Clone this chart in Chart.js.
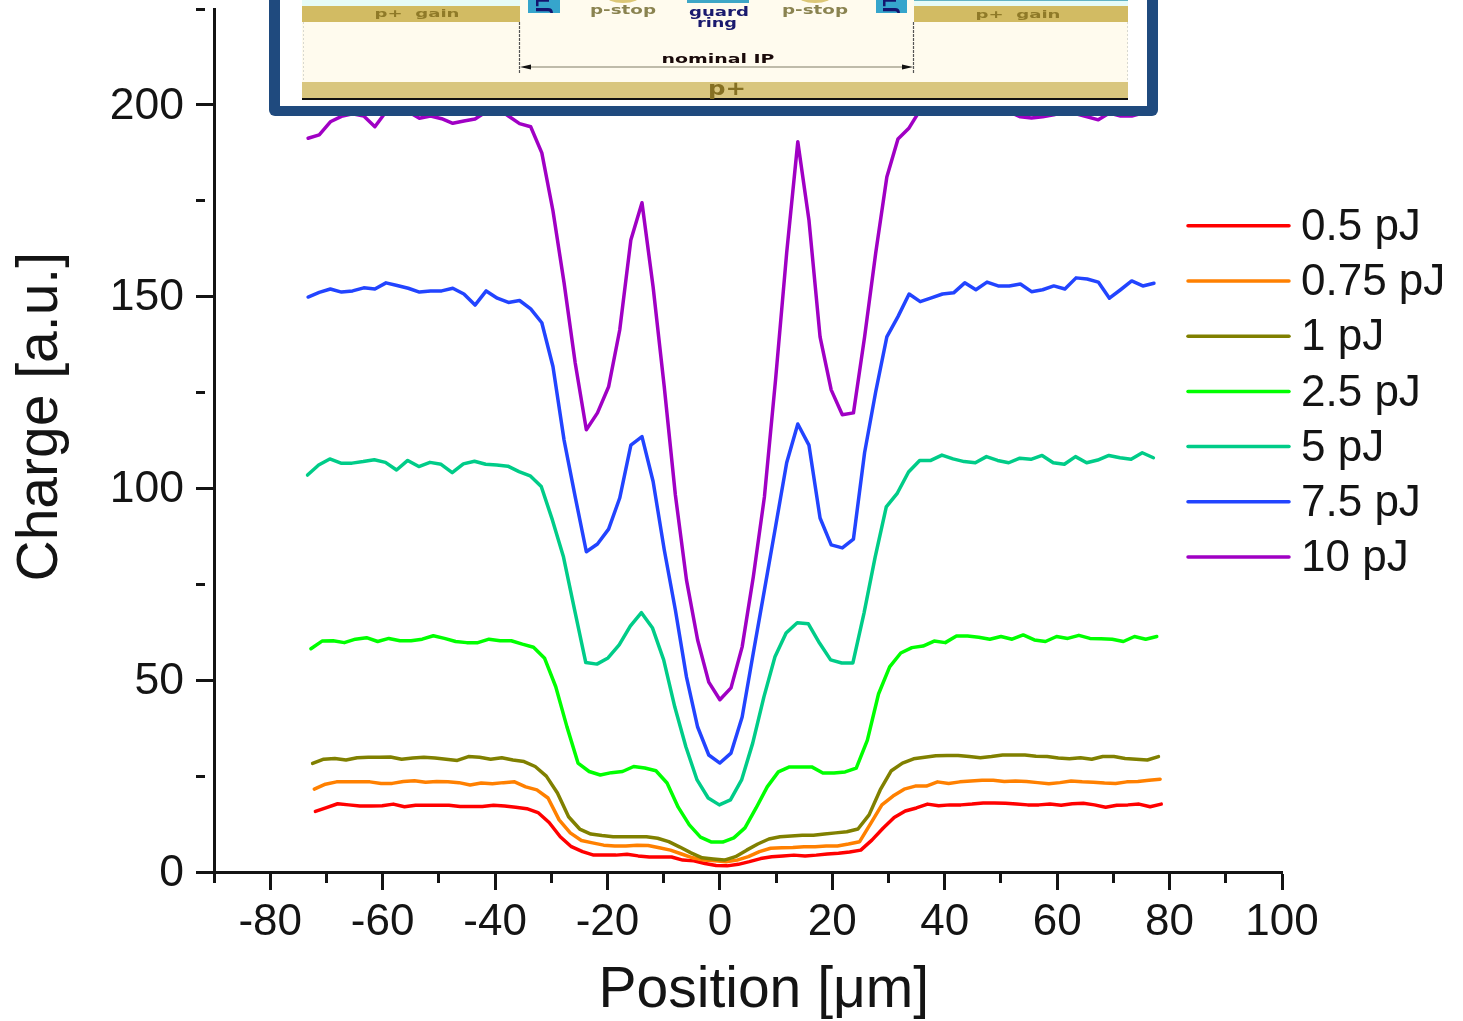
<!DOCTYPE html>
<html>
<head>
<meta charset="utf-8">
<style>html,body{margin:0;padding:0;background:#fff}#wrap{position:relative;width:1463px;height:1021px}</style>
<script src="https://cdn.jsdelivr.net/npm/chart.js@4/dist/chart.umd.min.js"></script>
</head>
<body>
<div id="wrap"><canvas id="c" width="1463" height="1021"></canvas></div>
<script>
const seriesNames = ['0.5 pJ','0.75 pJ','1 pJ','2.5 pJ','5 pJ','7.5 pJ','10 pJ'];
const seriesColors = ['#ff0000','#ff8000','#808000','#00ff00','#00cc88','#2244ff','#a000c4'];
const xTickValues = [-90,-80,-70,-60,-50,-40,-30,-20,-10,0,10,20,30,40,50,60,70,80,90,100];
const xTickLabels = [-80,-60,-40,-20,0,20,40,60,80,100];
const yTickValues = [0,25,50,75,100,125,150,175,200,225];
const yTickLabels = [0,50,100,150,200];

const positions = [-73.26,-71.28,-69.3,-67.32,-65.34,-63.36,-61.38,-59.4,-57.42,-55.44,-53.46,-51.48,-49.5,-47.52,-45.54,-43.56,-41.58,-39.6,-37.62,-35.64,-33.66,-31.68,-29.7,-27.72,-25.74,-23.76,-21.78,-19.8,-17.82,-15.84,-13.86,-11.88,-9.9,-7.92,-5.94,-3.96,-1.98,0,1.98,3.96,5.94,7.92,9.9,11.88,13.86,15.84,17.82,19.8,21.78,23.76,25.74,27.72,29.7,31.68,33.66,35.64,37.62,39.6,41.58,43.56,45.54,47.52,49.5,51.48,53.46,55.44,57.42,59.4,61.38,63.36,65.34,67.32,69.3,71.28,73.26,75.24,77.22];
const positionShift = [1.3,1.1,0.8,0.5,-0.1,0,0];

const q05 = [15.8,16.8,17.8,17.5,17.2,17.2,17.3,17.7,17,17.4,17.4,17.4,17.4,17.1,17.1,17.1,17.4,17.2,16.9,16.5,15.5,12.9,9.2,6.6,5.3,4.4,4.4,4.4,4.6,4.2,3.9,3.9,3.9,3.1,2.9,2.2,1.7,1.6,2,2.7,3.5,4,4.2,4.4,4.2,4.4,4.7,4.9,5.2,5.7,8.3,11.4,14.2,15.9,16.7,17.7,17.3,17.5,17.5,17.7,18,18,17.9,17.7,17.5,17.5,17.7,17.4,17.8,17.9,17.5,16.9,17.4,17.5,17.7,17,17.7];
const q075 = [21.6,22.9,23.5,23.5,23.5,23.5,23.1,23.1,23.6,23.8,23.4,23.6,23.5,23.3,22.7,23.2,23,23.3,23.5,22.2,21.4,19.3,13.6,10.2,8.2,7.6,7,6.8,6.8,7,6.9,6.3,5.7,4.7,3.7,3.1,2.9,2.7,3.1,4,5.3,6.2,6.3,6.4,6.6,6.6,6.8,6.8,7.3,7.9,12.7,17.5,19.8,21.6,22.4,22.4,23.5,23.1,23.5,23.7,23.9,23.9,23.6,23.7,23.6,23.3,23,23.3,23.7,23.5,23.4,23.2,23.1,23.5,23.6,23.9,24.2];
const q1 = [28.3,29.4,29.6,29.2,29.8,29.9,29.9,30,29.4,29.7,29.9,29.7,29.4,29.1,30.1,29.9,29.4,29.8,29.2,28.8,27.5,25,20.6,14.4,11.2,9.9,9.5,9.2,9.2,9.2,9.2,8.8,7.9,6.5,5,3.7,3.4,3.1,4,5.7,7.3,8.6,9.2,9.4,9.6,9.6,9.9,10.2,10.5,11.2,14.9,21.4,26.4,28.4,29.5,29.9,30.3,30.4,30.4,30.1,29.8,30.1,30.5,30.5,30.5,30.2,30.1,29.7,29.5,29.8,29.4,30.1,30.1,29.6,29.4,29.2,30.1];
const q25 = [58.2,60.2,60.3,59.8,60.7,61.1,60.1,60.9,60.3,60.3,60.7,61.6,60.9,60.1,59.8,59.8,60.7,60.3,60.3,59.4,58.6,55.7,48.3,37.9,28.4,26.2,25.3,25.9,26.2,27.5,27.1,26.4,23.2,16.9,12.3,9.1,7.8,7.8,8.9,11.5,16.7,22.2,26.1,27.4,27.4,27.4,25.8,25.8,26.1,27.1,34.4,46.4,53.5,57.1,58.5,58.9,60.2,59.8,61.5,61.5,61.2,60.7,61.4,60.7,61.8,60.5,60.1,61.4,60.9,61.7,60.9,60.8,60.7,60.1,61.4,60.7,61.4];
const q5 = [103.5,106.1,107.7,106.6,106.6,107,107.5,106.8,104.8,107.3,105.7,106.8,106.3,104.1,106.4,107.1,106.3,106.1,105.8,104.4,103.3,100.5,91.8,82.1,68.3,54.6,54.2,55.8,59.2,64.1,67.6,63.6,55.3,43,32.6,24,19.3,17.5,18.8,24,33.6,45.6,56.1,62.3,65,64.7,59.7,55.3,54.5,54.5,67.5,82.1,95.2,98.8,104.3,107.3,107.3,108.7,107.7,107,106.7,108.3,107.3,106.7,107.9,107.6,108.6,106.7,106.3,108.3,106.7,107.4,108.6,108,107.6,109.3,108];
const q75 = [149.9,151.1,152,151.2,151.5,152.3,152,153.6,152.9,152.2,151.2,151.5,151.5,152.2,150.7,147.8,151.5,149.6,148.5,149,146.8,143.2,131.8,112.6,97.8,83.5,85.5,89.4,97.5,111.3,113.5,101.8,84,68.3,50.8,37.8,30.5,28.4,31,40.4,57.1,73.5,90,106.7,116.8,111.3,92.3,85.3,84.5,86.8,109.3,125.2,139.5,144.8,150.7,148.7,149.7,150.7,151,153.6,151.8,153.8,152.8,152.8,153.3,151.3,151.8,152.8,152,154.9,154.6,153.8,149.6,151.8,154.1,152.8,153.5];
const q10 = [191.3,192.2,195.6,197,197.7,197.1,194.3,198.2,199.2,198.2,196.5,197.1,196.4,195.2,195.8,196.3,198.2,199.2,197.1,195.1,194.3,187.5,172.4,153.6,132.7,115.3,119.7,126.5,141.3,164.8,174.5,152.5,126.5,98.3,76.1,60.5,49.5,44.9,48,58.7,76.9,97.8,128.3,161.4,190.4,170,139.5,125.7,119.2,119.7,139.5,161.4,181.2,191.1,194,198.7,199.2,199.5,199.2,199.7,199.2,199,198.7,198.2,196.9,196.6,196.9,197.4,198.2,197.7,196.9,196.1,197.9,197.1,197.1,197.9,198.2];
const seriesValues = [q05,q075,q1,q25,q5,q75,q10];

const FONT = '"Liberation Sans", Arial, sans-serif';
const INK = '#141414';

function fitText(ctx, str, cx, cy, size, width, color) {
  ctx.save();
  ctx.font = 'bold ' + size + 'px "DejaVu Sans"';
  ctx.fillStyle = color;
  ctx.textAlign = 'center';
  ctx.textBaseline = 'middle';
  const w = ctx.measureText(str).width;
  ctx.translate(cx, cy);
  ctx.scale(width / w, 1);
  ctx.fillText(str, 0, 0);
  ctx.restore();
}

const insetPlugin = {
  id: 'inset',
  afterDatasetsDraw(chart) {
    const ctx = chart.ctx;
    ctx.save();
    ctx.fillStyle = '#1f4a7e';
    ctx.beginPath();
    ctx.roundRect(269, -20, 889, 136, 6);
    ctx.fill();
    ctx.fillStyle = '#ffffff';
    ctx.fillRect(280, 0, 867, 106);
    ctx.fillStyle = '#fffbee';
    ctx.fillRect(302, 0, 826, 82);
    ctx.fillStyle = '#e6fbf8';
    ctx.fillRect(302, 0, 218, 6);
    ctx.fillRect(914, 0, 214, 6);
    ctx.fillStyle = '#63b4c4';
    ctx.fillRect(914, 0, 214, 1);
    ctx.fillStyle = '#d2bb63';
    ctx.fillRect(302, 6, 218, 16);
    ctx.fillRect(914, 6, 214, 16);
    ctx.fillStyle = '#36a5cc';
    ctx.fillRect(528, 0, 32, 13);
    ctx.fillRect(876, 0, 31, 13);
    ctx.fillStyle = '#3ea6c6';
    ctx.fillRect(687, 0, 62, 3);
    ctx.fillStyle = '#dcc777';
    ctx.beginPath(); ctx.ellipse(623, -5, 18, 8, 0, 0, Math.PI * 2); ctx.fill();
    ctx.beginPath(); ctx.ellipse(815, -5, 18, 8, 0, 0, Math.PI * 2); ctx.fill();
    ctx.fillStyle = '#d9c67e';
    ctx.fillRect(302, 82, 826, 16);
    ctx.fillStyle = '#111';
    ctx.fillRect(302, 98, 826, 2);
    ctx.strokeStyle = '#d8d8d0';
    ctx.lineWidth = 1;
    ctx.setLineDash([2, 2]);
    ctx.beginPath();
    ctx.moveTo(303.5, 22); ctx.lineTo(303.5, 80);
    ctx.moveTo(1127.5, 22); ctx.lineTo(1127.5, 80);
    ctx.stroke();
    ctx.strokeStyle = '#555';
    ctx.lineWidth = 1.2;
    ctx.setLineDash([3, 1]);
    ctx.beginPath();
    ctx.moveTo(519.5, 22); ctx.lineTo(519.5, 74);
    ctx.moveTo(913.5, 22); ctx.lineTo(913.5, 74);
    ctx.stroke();
    ctx.setLineDash([]);
    ctx.strokeStyle = '#aaa693';
    ctx.lineWidth = 1.4;
    ctx.beginPath(); ctx.moveTo(524, 67); ctx.lineTo(908, 67); ctx.stroke();
    ctx.fillStyle = '#111';
    ctx.beginPath(); ctx.moveTo(520, 67); ctx.lineTo(531, 64.5); ctx.lineTo(531, 69.5); ctx.fill();
    ctx.beginPath(); ctx.moveTo(913, 67); ctx.lineTo(902, 64.5); ctx.lineTo(902, 69.5); ctx.fill();
    [544, 891].forEach(function (x) {
      ctx.save();
      ctx.beginPath(); ctx.rect(x - 16, 0, 32, 13); ctx.clip();
      ctx.translate(x, 13);
      ctx.rotate(-Math.PI / 2);
      ctx.font = 'bold 18px "DejaVu Sans"';
      ctx.fillStyle = '#14146e';
      ctx.textAlign = 'left';
      ctx.textBaseline = 'middle';
      ctx.fillText('JTE', 0, 0);
      ctx.restore();
    });
    ctx.restore();
    fitText(ctx, 'p+  gain', 417, 14.5, 11, 85, '#8f7a28');
    fitText(ctx, 'p+  gain', 1018, 15.5, 11, 85, '#8f7a28');
    fitText(ctx, 'p-stop', 623, 10.5, 12, 66, '#8a8350');
    fitText(ctx, 'p-stop', 815, 10.5, 12, 66, '#8a8350');
    fitText(ctx, 'guard', 719, 12.5, 12, 60, '#1a1a6e');
    fitText(ctx, 'ring', 717, 24, 12, 40, '#1a1a6e');
    fitText(ctx, 'nominal IP', 718, 59.5, 12, 113, '#1a0a0a');
    fitText(ctx, 'p+', 727, 90.5, 19, 38, '#857023');
  }
};

const legendPlugin = {
  id: 'sideLegend',
  afterDraw(chart) {
    const ctx = chart.ctx;
    ctx.save();
    ctx.font = '44px ' + FONT;
    ctx.textBaseline = 'middle';
    ctx.textAlign = 'left';
    ctx.lineWidth = 3.5;
    ctx.lineCap = 'round';
    seriesNames.forEach(function (name, i) {
      const y = 225.8 + i * 55.2;
      ctx.strokeStyle = seriesColors[i];
      ctx.beginPath(); ctx.moveTo(1188, y); ctx.lineTo(1289, y); ctx.stroke();
      ctx.fillStyle = INK;
      ctx.fillText(name, 1301, y + 2);
    });
    ctx.restore();
  }
};

const datasets = seriesNames.map(function (name, i) {
  return {
    label: name,
    data: seriesValues[i].map(function (v, j) { return { x: positions[j] + positionShift[i], y: v }; }),
    borderColor: seriesColors[i],
    borderWidth: 3.5,
    pointRadius: 0,
    tension: 0,
    fill: false,
    borderJoinStyle: 'round',
    borderCapStyle: 'round',
    order: seriesNames.length - i
  };
});

function minorDash(list) {
  return function (ctx) { return (ctx.tick && list.indexOf(ctx.tick.value) < 0) ? [9, 100] : []; };
}

new Chart(document.getElementById('c'), {
  type: 'line',
  data: { datasets: datasets },
  plugins: [insetPlugin, legendPlugin],
  options: {
    responsive: false,
    animation: false,
    devicePixelRatio: 1,
    layout: { padding: { top: 9, right: 181, left: 0, bottom: 0 } },
    plugins: { legend: { display: false }, tooltip: { enabled: false } },
    scales: {
      x: {
        type: 'linear', min: -90, max: 100,
        afterBuildTicks(s) { s.ticks = xTickValues.map(function (v) { return { value: v }; }); },
        afterFit(s) { s.height = 149; s.paddingLeft = 0; s.paddingRight = 0; },
        border: { display: true, color: INK, width: 3 },
        grid: { drawOnChartArea: false, drawTicks: true, tickLength: 18, tickWidth: 3, tickColor: INK, tickBorderDash: minorDash(xTickLabels) },
        ticks: {
          autoSkip: false, maxRotation: 0, minRotation: 0, padding: 6, color: INK,
          font: { family: FONT, size: 44 },
          callback(v) { return xTickLabels.indexOf(v) >= 0 ? String(v) : ''; }
        },
        title: { display: true, text: '  Position [\u03bcm]', color: INK, font: { family: FONT, size: 57 }, padding: { top: 0, bottom: -4 } }
      },
      y: {
        type: 'linear', min: 0, max: 225,
        afterBuildTicks(s) { s.ticks = yTickValues.map(function (v) { return { value: v }; }); },
        afterFit(s) { s.width = 214; s.paddingTop = 0; s.paddingBottom = 0; },
        border: { display: true, color: INK, width: 3 },
        grid: { drawOnChartArea: false, drawTicks: true, tickLength: 18, tickWidth: 3, tickColor: INK, tickBorderDash: minorDash(yTickLabels) },
        ticks: {
          autoSkip: false, padding: 12, color: INK, labelOffset: 1.5,
          font: { family: FONT, size: 44.5 },
          callback(v) { return yTickLabels.indexOf(v) >= 0 ? String(v) : ''; }
        },
        title: { display: true, text: '   Charge [a.u.]', color: INK, font: { family: FONT, size: 57 }, padding: { top: 7, bottom: 0 } }
      }
    }
  }
});
</script>
</body>
</html>
